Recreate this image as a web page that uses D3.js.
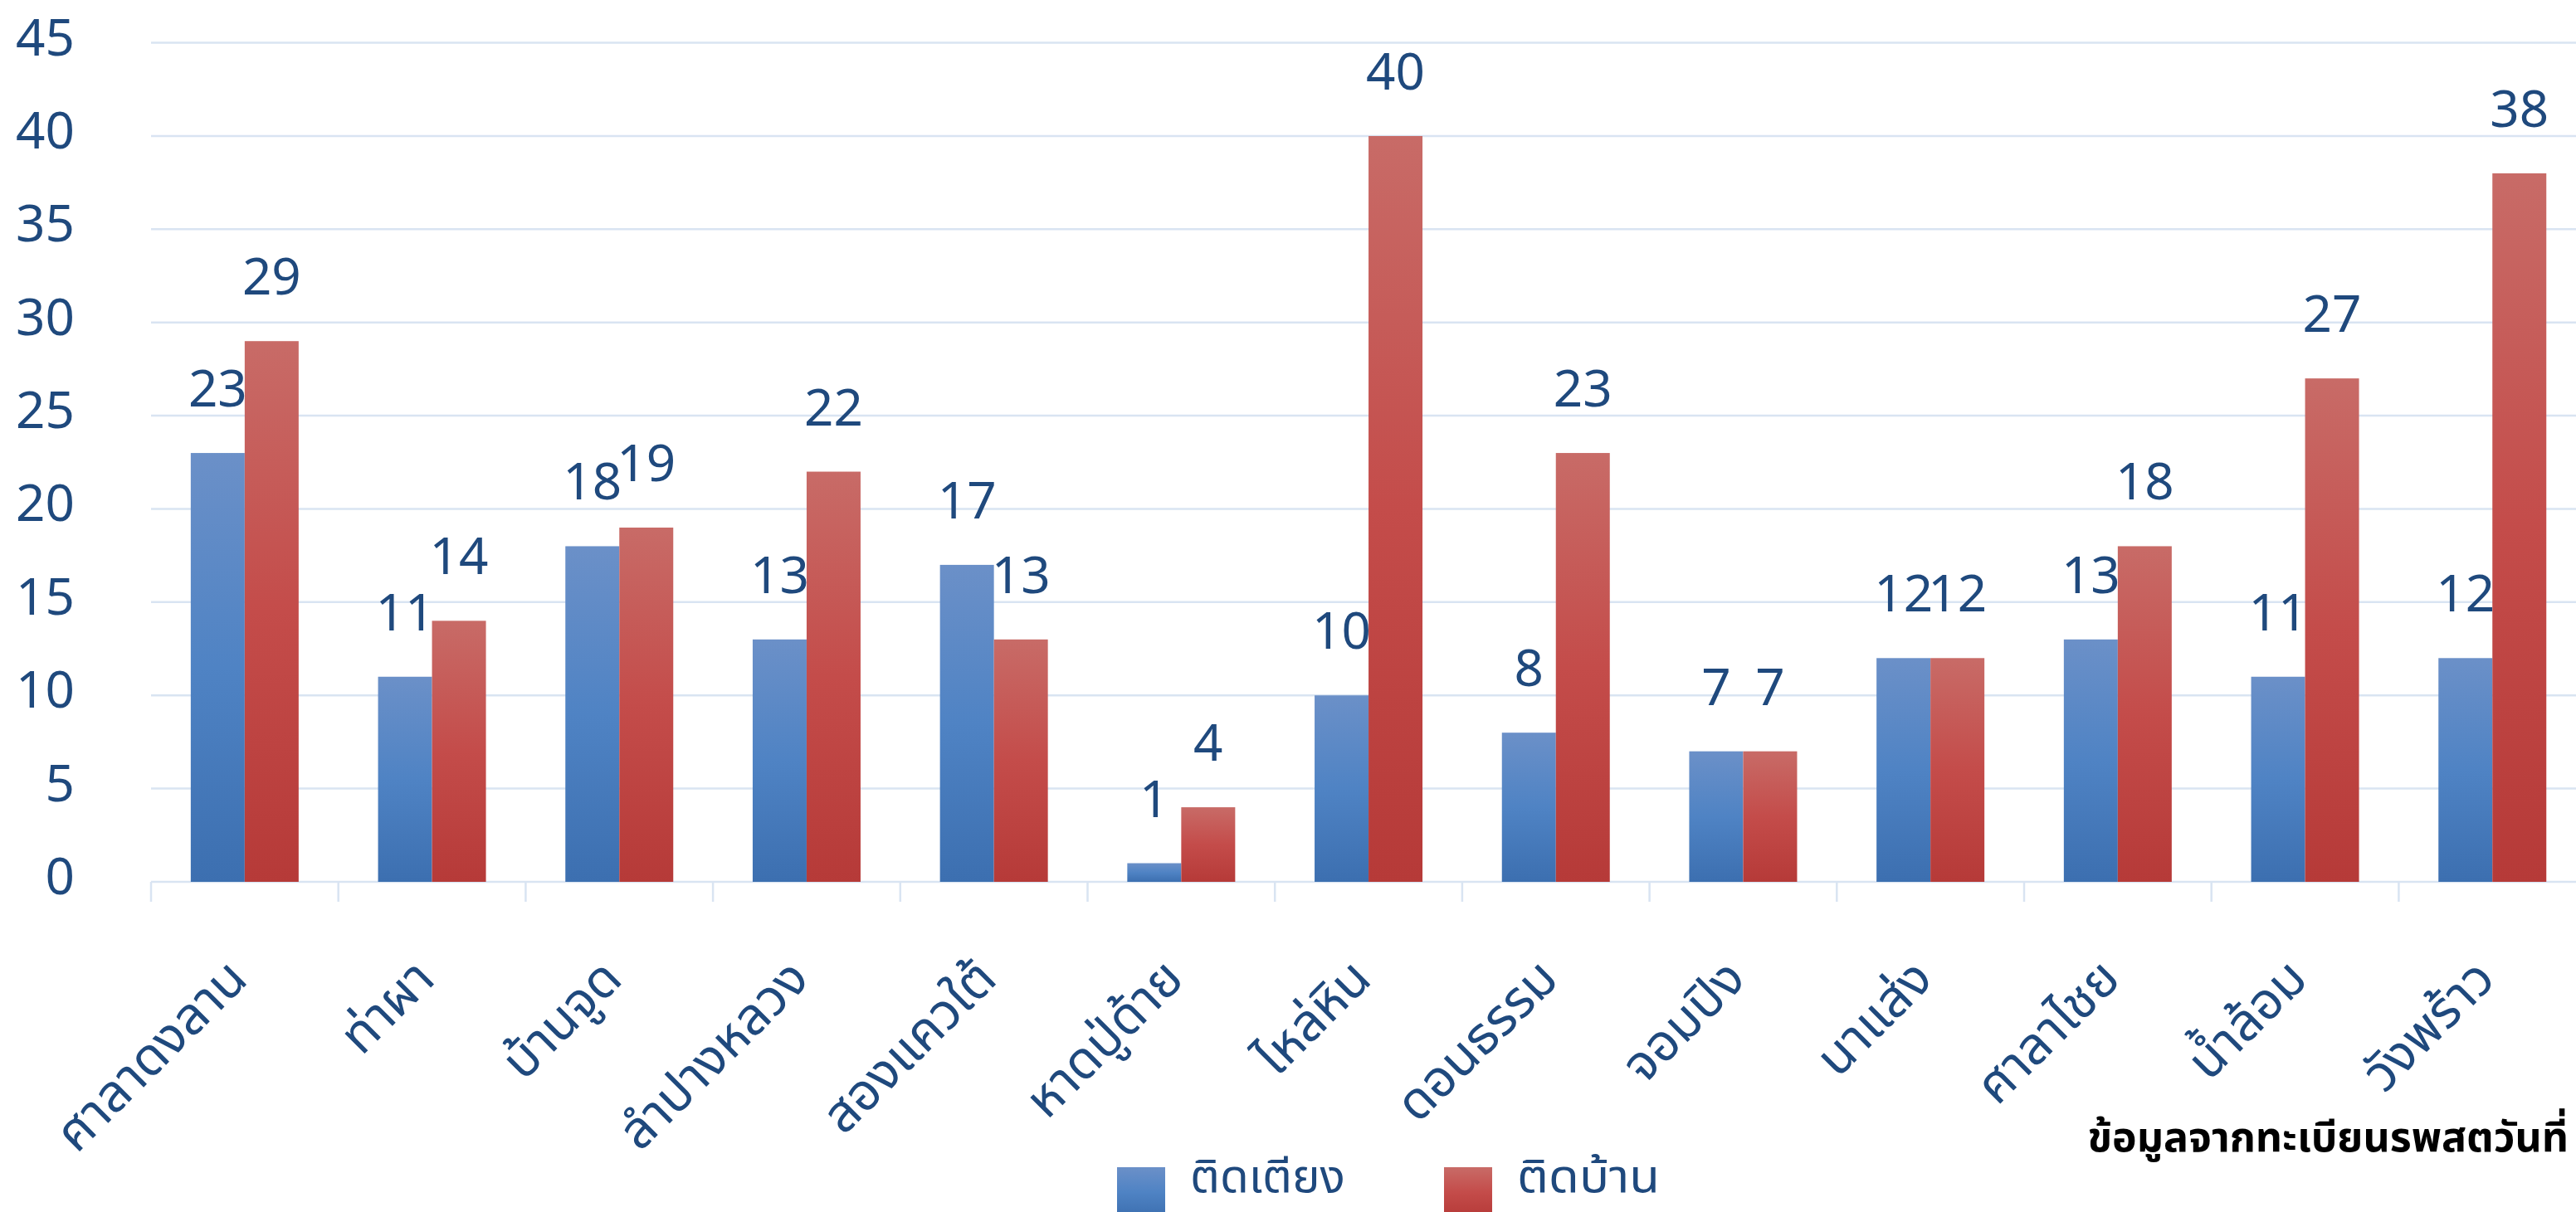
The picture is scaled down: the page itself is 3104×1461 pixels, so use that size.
<html>
  <head>
    <meta charset="utf-8">
    <title>ติดเตียง / ติดบ้าน</title>
    <style>
      body { margin: 0; background: #fff; }
      svg { display: block; }
    </style>
  </head>
  <body>
    <script src="https://cdn.jsdelivr.net/npm/d3@7"></script>
    <script>
      (function() {
        // Data
        var categories = ['ศาลาดงลาน', 'ท่าผา', 'บ้านจูด', 'ลำปางหลวง', 'สองแควใต้', 'หาดปู่ด้าย',
          'ไหล่หิน', 'ดอนธรรม', 'จอมปิง', 'นาแส่ง', 'ศาลาไชย', 'น้ำล้อม', 'วังพร้าว'];
        var seriesNames = ['ติดเตียง', 'ติดบ้าน'];
        var bedridden = [23, 11, 18, 13, 17, 1, 10, 8, 7, 12, 13, 11, 12];
        var homebound = [29, 14, 19, 22, 13, 4, 40, 23, 7, 12, 18, 27, 38];
        var yTicks = [0, 5, 10, 15, 20, 25, 30, 35, 40, 45];
        var footnote = 'ข้อมูลจากทะเบียนรพสตวันที่';

        var WIDTH = 3104;
        var HEIGHT = 1461;
        var FONT = '"Noto Sans Thai", "Leelawadee UI", Tahoma, "Noto Sans", sans-serif';
        var TEXT_COLOR = '#1f497d';
        var GRID_COLOR = '#d9e4f2';

        var colors = {
          blue: ['#6b90c8', '#4f83c4', '#3c6fb0'],
          red: ['#c86b67', '#c44c4a', '#b63a38']
        };

        var svg = d3.select('body')
          .append('svg')
          .attr('width', WIDTH)
          .attr('height', HEIGHT)
          .style('font-family', FONT);

        // Per-bar vertical gradients (light on top)
        var defs = svg.append('defs');
        Object.keys(colors).forEach(function(key) {
          var g = defs.append('linearGradient')
            .attr('id', 'grad-' + key)
            .attr('x1', 0).attr('y1', 0)
            .attr('x2', 0).attr('y2', 1);
          g.append('stop').attr('offset', '0%').attr('stop-color', colors[key][0]);
          g.append('stop').attr('offset', '50%').attr('stop-color', colors[key][1]);
          g.append('stop').attr('offset', '100%').attr('stop-color', colors[key][2]);
        });

        var x = d3.scaleBand()
          .domain(categories)
          .range([182, 182 + 225.7 * categories.length]);

        var GROUP = 130;
        var xInner = d3.scaleBand()
          .domain(seriesNames)
          .range([0, GROUP]);

        var y = d3.scaleLinear()
          .domain([0, 45])
          .range([1063, 51.6]);

        // Gridlines
        svg.append('g')
          .selectAll('line')
          .data(yTicks)
          .enter()
          .append('line')
          .attr('x1', x.range()[0])
          .attr('x2', WIDTH)
          .attr('y1', function(d) { return y(d); })
          .attr('y2', function(d) { return y(d); })
          .attr('stroke', GRID_COLOR)
          .attr('stroke-width', 2.5);

        // Category tick marks
        svg.append('g')
          .selectAll('line')
          .data(categories)
          .enter()
          .append('line')
          .attr('x1', function(d) { return x(d); })
          .attr('x2', function(d) { return x(d); })
          .attr('y1', y(0))
          .attr('y2', y(0) + 24)
          .attr('stroke', GRID_COLOR)
          .attr('stroke-width', 2.5);

        // Y axis labels
        svg.append('g')
          .selectAll('text')
          .data(yTicks)
          .enter()
          .append('text')
          .attr('x', 90)
          .attr('y', function(d) { return y(d) - 4; })
          .attr('text-anchor', 'end')
          .attr('dominant-baseline', 'central')
          .attr('font-size', 62)
          .attr('fill', TEXT_COLOR)
          .text(function(d) { return d; });

        var series = [
          { name: seriesNames[0], values: bedridden, fill: 'url(#grad-blue)' },
          { name: seriesNames[1], values: homebound, fill: 'url(#grad-red)' }
        ];

        var offset = (x.bandwidth() - GROUP) / 2;

        series.forEach(function(s) {
          var g = svg.append('g');
          g.selectAll('rect')
            .data(s.values)
            .enter()
            .append('rect')
            .attr('x', function(d, i) { return x(categories[i]) + offset + xInner(s.name); })
            .attr('y', function(d) { return y(d); })
            .attr('width', xInner.bandwidth())
            .attr('height', function(d) { return y(0) - y(d); })
            .attr('fill', s.fill);

          g.selectAll('text')
            .data(s.values)
            .enter()
            .append('text')
            .attr('x', function(d, i) { return x(categories[i]) + offset + xInner(s.name) + xInner.bandwidth() / 2; })
            .attr('y', function(d) { return y(d) - 56; })
            .attr('text-anchor', 'middle')
            .attr('font-size', 62)
            .attr('fill', TEXT_COLOR)
            .text(function(d) { return d; });
        });

        // Rotated category labels
        svg.append('g')
          .selectAll('text')
          .data(categories)
          .enter()
          .append('text')
          .attr('transform', function(d) {
            return 'translate(' + (x(d) + x.bandwidth() / 2 + 6) + ',' + (y(0) + 120) + ') rotate(-45)';
          })
          .attr('text-anchor', 'end')
          .attr('font-size', 62)
          .attr('fill', TEXT_COLOR)
          .text(function(d) { return d; });

        // Legend (sits at the very bottom edge, as in the original)
        var legendX = [1346, 1740];
        var legendTextWidth = [187, 172];
        var legend = svg.append('g')
          .selectAll('g')
          .data(series)
          .enter()
          .append('g')
          .attr('transform', function(d, i) { return 'translate(' + legendX[i] + ',0)'; });

        legend.append('rect')
          .attr('y', 1407)
          .attr('width', 58)
          .attr('height', 60)
          .attr('fill', function(d) { return d.fill; });

        legend.append('text')
          .attr('x', 88)
          .attr('y', 1437)
          .attr('font-size', 56)
          .attr('textLength', function(d, i) { return legendTextWidth[i]; })
          .attr('lengthAdjust', 'spacingAndGlyphs')
          .attr('fill', TEXT_COLOR)
          .text(function(d) { return d.name; });

        // Source note
        svg.append('text')
          .attr('x', 3095)
          .attr('y', 1388)
          .attr('text-anchor', 'end')
          .attr('font-size', 50)
          .attr('font-weight', 'bold')
          .attr('fill', '#000')
          .text(footnote);
      })();
    </script>
  </body>
</html>
